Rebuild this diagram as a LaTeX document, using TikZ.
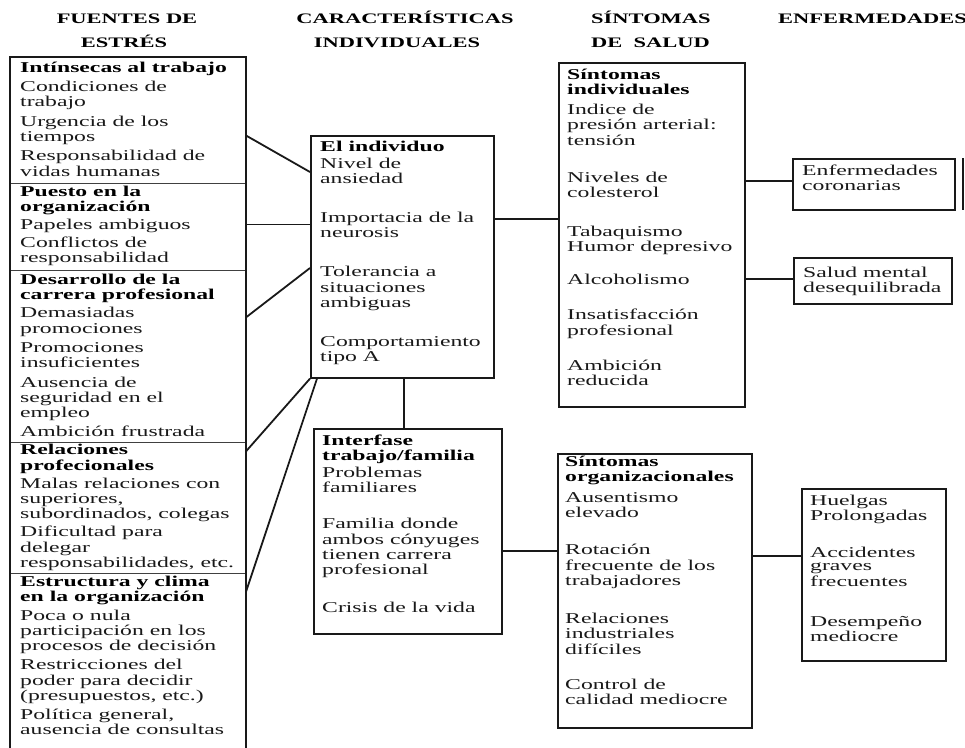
\documentclass[tikz,border=0pt]{standalone}
\usepackage{fontspec}
\setmainfont{Liberation Serif}[FakeStretch=1.58]
\newfontfamily\hdfont{Liberation Serif}[FakeStretch=1.55]
\usetikzlibrary{calc}
\tikzset{
  boxline/.style={draw=black!90, line width=1.6pt},
  box/.style={boxline, inner sep=0pt, anchor=north west},
  sect/.style={draw=black!75, line width=0.9pt, inner sep=0pt, anchor=north west, minimum width=235pt},
  txt/.style={anchor=north west, inner sep=0pt, align=left, text=black!90, yshift=10.71pt,
              font=\fontsize{15}{15.3}\selectfont},
  hd/.style={anchor=base, inner sep=0pt, text=black, font=\hdfont\bfseries\fontsize{14.5}{16}\selectfont},
  link/.style={draw=black!90, line width=1.8pt},
}
\begin{document}
\begin{tikzpicture}[x=1pt,y=-1pt]
\useasboundingbox (0,0) rectangle (965,747);
\clip (0,0) rectangle (965,747);
\fill[white] (0,0) rectangle (965,747);

% headers
\node[hd] (h1a) at (127,23) {FUENTES DE};
\node[hd] (h1b) at (124,47) {ESTRÉS};
\node[hd] (h2a) at (405,23) {CARACTERÍSTICAS};
\node[hd] (h2b) at (397,47) {INDIVIDUALES};
\node[hd, anchor=base west] (h3a) at (591,23) {SÍNTOMAS};
\node[hd, anchor=base west] (h3b) at (591,47) {DE~ SALUD};
\node[hd, anchor=base west] (h4) at (778,23) {ENFERMEDADES};

% left column sections
\node[sect, minimum height=126pt] (s1) at (10,57) {};
\node[sect, minimum height=87pt]  (s2) at (10,183) {};
\node[sect, minimum height=172pt] (s3) at (10,270) {};
\node[sect, minimum height=131pt] (s4) at (10,442) {};
\node[sect, minimum height=180pt] (s5) at (10,573) {};
\draw[boxline] (s1.north west) rectangle (s5.south east);

\node[txt] (t1) at (20,72) {\strut\textcolor{black}{\bfseries Intínsecas al trabajo}\\[4pt]
Condiciones de\\ trabajo\\[4pt] Urgencia de los\\ tiempos\\[4pt] Responsabilidad de\\ vidas humanas};
\node[txt] (t2) at (20,196) {\strut\textcolor{black}{\bfseries Puesto en la}\\ \textcolor{black}{\bfseries organización}\\[3pt]
Papeles ambiguos\\[2pt] Conflictos de\\ responsabilidad};
\node[txt] (t3) at (20,284) {\strut\textcolor{black}{\bfseries Desarrollo de la}\\ \textcolor{black}{\bfseries carrera profesional}\\[3pt]
Demasiadas\\ promociones\\[4pt] Promociones\\ insuficientes\\[4pt] Ausencia de\\ seguridad en el\\ empleo\\[4pt] Ambición frustrada};
\node[txt] (t4) at (20,454.5) {\strut\textcolor{black}{\bfseries Relaciones}\\ \textcolor{black}{\bfseries profecionales}\\[3pt]
Malas relaciones con\\ superiores,\\ subordinados, colegas\\[2.5pt] Dificultad para\\ delegar\\ responsabilidades, etc.};
\node[txt] (t5) at (20,586) {\strut\textcolor{black}{\bfseries Estructura y clima}\\ \textcolor{black}{\bfseries en la organización}\\[3.5pt]
Poca o nula\\ participación en los\\ procesos de decisión\\[3.5pt] Restricciones del\\ poder para decidir\\ (presupuestos, etc.)\\[3.5pt] Política general,\\ ausencia de consultas};

% individual
\node[box, minimum width=183pt, minimum height=242pt] (indiv) at (310,135) {};
\node[txt] (ti) at (320,151) {\strut\textcolor{black}{\bfseries El individuo}\\[2pt]
Nivel de\\ ansiedad\\[23.5pt] Importacia de la\\ neurosis\\[23.5pt] Tolerancia a\\ situaciones\\ ambiguas\\[23.5pt] Comportamiento\\ tipo A};

% interfase
\node[box, minimum width=188pt, minimum height=205pt] (inter) at (313,428) {};
\node[txt] (tf) at (322,445) {\strut\textcolor{black}{\bfseries Interfase}\\ \textcolor{black}{\bfseries trabajo/familia}\\[1.7pt]
Problemas\\ familiares\\[20.7pt] Familia donde\\ ambos cónyuges\\ tienen carrera\\ profesional\\[22.7pt] Crisis de la vida};

% sintomas individuales
\node[box, minimum width=186pt, minimum height=344pt] (sind) at (558,62) {};
\node[txt] (tsi) at (567,79) {\strut\textcolor{black}{\bfseries Síntomas}\\ \textcolor{black}{\bfseries individuales}\\[4.7pt]
Indice de\\ presión arterial:\\ tensión\\[21.7pt] Niveles de\\ colesterol\\[23.7pt] Tabaquismo\\ Humor depresivo\\[17.7pt]
Alcoholismo\\[19.7pt] Insatisfacción\\ profesional\\[19.7pt] Ambición\\ reducida};

% sintomas organizacionales
\node[box, minimum width=194pt, minimum height=274pt] (sorg) at (557,453) {};
\node[txt] (tso) at (565,466) {\strut\textcolor{black}{\bfseries Síntomas}\\ \textcolor{black}{\bfseries organizacionales}\\[5.7pt]
Ausentismo\\ elevado\\[21.7pt] Rotación\\ frecuente de los\\ trabajadores\\[22.7pt] Relaciones\\ industriales\\ difíciles\\[19.7pt]
Control de\\ calidad mediocre};

% enfermedades
\node[box, minimum width=162pt, minimum height=51pt] (cor) at (792,158) {};
\node[txt] (tc) at (802,175) {\strut Enfermedades\\ coronarias};
\node[box, minimum width=158pt, minimum height=46pt] (sal) at (793,257) {};
\node[txt] (ts) at (803,277) {\strut Salud mental\\ desequilibrada};
\node[box, minimum width=144pt, minimum height=172pt] (hue) at (801,488) {};
\node[txt] (th) at (810,505) {\strut Huelgas\\ Prolongadas\\[21.7pt] Accidentes\\[-2pt] graves\\ frecuentes\\[24.7pt] Desempeño\\ mediocre};

% clipped box edge at right
\coordinate (e1) at (963,158);
\coordinate (e2) at (963,210);
\draw[boxline] (e1) -- (e2);

% connectors
\draw[link] ([yshift=-15pt]s1.east) -- ([yshift=-37pt]indiv.north west);
\draw[link] ([yshift=2.5pt]s2.east) -- ([yshift=2.5pt]s2.east -| indiv.west);
\draw[link] ([yshift=39pt]s3.east) -- ([yshift=-133pt]indiv.north west);
\draw[link] ([yshift=56.5pt]s4.east) -- (indiv.south west);
\draw[link] ([yshift=71.5pt]s5.east) -- ([xshift=7pt]indiv.south west);
\draw[link] ([xshift=1.5pt]indiv.south) -- ([xshift=1.5pt]indiv.south |- inter.north);
\draw[link] ([yshift=-84pt]indiv.north east) -- ([yshift=-84pt]indiv.north east -| sind.west);
\draw[link] ([yshift=-19.5pt]inter.east) -- ([yshift=-19.5pt]inter.east -| sorg.west);
\draw[link] ([yshift=3pt]cor.west -| sind.east) -- ([yshift=3pt]cor.west);
\draw[link] ([yshift=2pt]sal.west -| sind.east) -- ([yshift=2pt]sal.west);
\draw[link] ([yshift=19pt]hue.west -| sorg.east) -- ([yshift=19pt]hue.west);
\end{tikzpicture}
\end{document}
